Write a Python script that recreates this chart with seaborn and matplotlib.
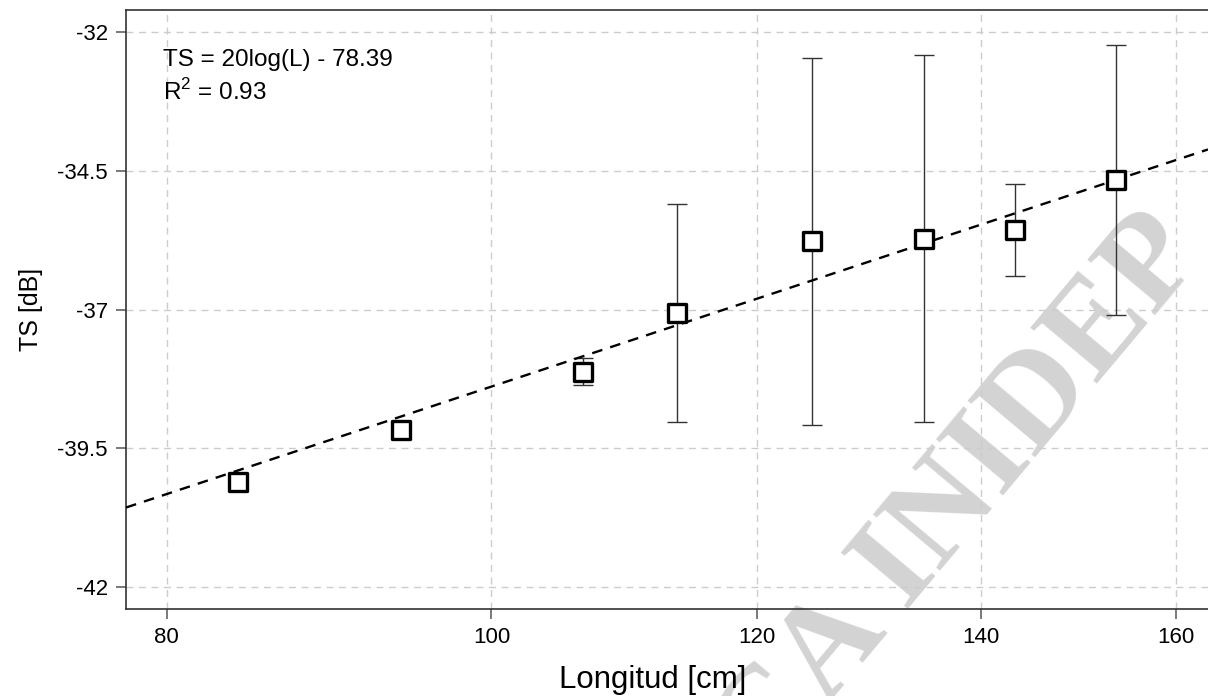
import numpy as np
import pandas as pd
import matplotlib
matplotlib.use("Agg")
import matplotlib.pyplot as plt
import seaborn as sns

# ---- data ----
longitud = [84.0, 94.0, 106.5, 113.6, 124.6, 134.6, 143.3, 153.6]
ts_mean = [-40.11, -39.17, -38.12, -37.06, -35.77, -35.72, -35.56, -34.67]
ts_err = [0.15, 0.10, 0.25, 1.96, 3.31, 3.31, 0.83, 2.43]
fit_slope = 20.0
fit_intercept = -78.39
r2 = 0.93
x_ticks = [80, 100, 120, 140, 160]
y_ticks = [-32, -34.5, -37, -39.5, -42]
y_tick_labels = ["-32", "-34.5", "-37", "-39.5", "-42"]
x_limits = (77.8, 163.6)
y_limits = (-42.40, -31.60)

sns.set_theme(style="ticks")
plt.rcParams['font.family'] = ['Liberation Sans', 'DejaVu Sans']
plt.rcParams['mathtext.fontset'] = 'custom'
plt.rcParams['mathtext.rm'] = 'Liberation Sans'
plt.rcParams['text.color'] = 'black'
plt.rcParams['axes.labelcolor'] = 'black'

fig = plt.figure(figsize=(12.08, 6.96), dpi=100)
ax = fig.add_axes([126/1208, 1-609/696, 1-126/1208, (609-10)/696])
ax.set_xscale("log")
ax.patch.set_alpha(0)

df = pd.DataFrame({"L": longitud, "TS": ts_mean, "err": ts_err})

# watermark (behind everything)
fig.text(0.795, 0.287, "CA INIDEP", rotation=50,
         ha="center", va="center", fontsize=96, fontweight="bold",
         family="Liberation Serif", color="#d3d3d3", zorder=-1)

# fit line
fit_x = np.array(x_limits)
fit_df = pd.DataFrame({"L": fit_x, "TS": fit_slope*np.log10(fit_x) + fit_intercept})
sns.lineplot(data=fit_df, x="L", y="TS", ax=ax, color="black", linewidth=1.7,
             dashes=False, zorder=3)
ax.lines[-1].set_dashes((4.5, 3.5))

# error bars
ax.errorbar(df["L"], df["TS"], yerr=df["err"], fmt="none", ecolor="#333333",
            elinewidth=1.0, capsize=7, capthick=1.0, zorder=2)

# points
sns.scatterplot(data=df, x="L", y="TS", ax=ax, marker="s", s=150,
                facecolor="white", edgecolor="black", linewidth=2.4, zorder=4)

ax.set_xlim(*x_limits)
ax.set_ylim(*y_limits)
ax.set_xticks(x_ticks)
ax.set_xticklabels([str(t) for t in x_ticks])
ax.xaxis.set_minor_locator(matplotlib.ticker.NullLocator())
ax.set_yticks(y_ticks)
ax.set_yticklabels(y_tick_labels)

ax.grid(True, which="major", color="#cccccc", linestyle=(0, (5, 4)), linewidth=1.0)
ax.set_axisbelow(True)

for s in ["left", "bottom", "top"]:
    ax.spines[s].set_color("#333333")
    ax.spines[s].set_linewidth(1.2)
ax.spines["right"].set_visible(False)
ax.tick_params(axis="both", direction="out", length=7, width=1.1, color="#555555",
               labelsize=16, labelcolor="black", pad=6)

ax.set_xlabel("Longitud [cm]", fontsize=22.5)
ax.xaxis.label.set_va("center")
ax.xaxis.set_label_coords(0.487, -0.1185)
ax.set_ylabel("TS [dB]", fontsize=18, labelpad=10)

ax.text(0.034, 0.9165, f"TS = {int(fit_slope)}log(L) - {abs(fit_intercept):.2f}",
        transform=ax.transAxes, fontsize=17.5, va="center", ha="left")
ax.text(0.034, 0.863, r"R$^{2}$ = " + f"{r2:.2f}",
        transform=ax.transAxes, fontsize=17.5, va="center", ha="left")

fig.savefig("out.png", dpi=100)
